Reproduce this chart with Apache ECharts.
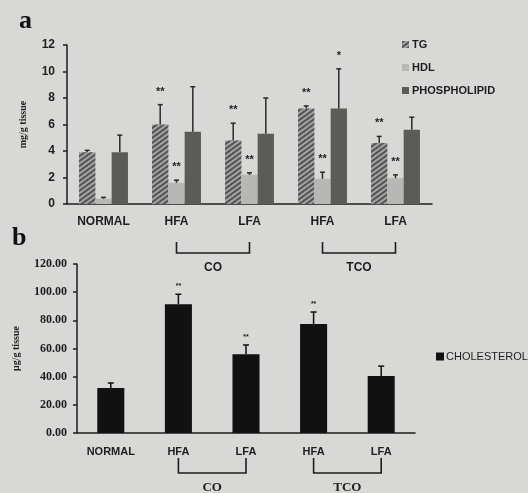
<!DOCTYPE html>
<html><head><meta charset="utf-8">
<script src="https://cdn.jsdelivr.net/npm/echarts@6/dist/echarts.min.js"></script>
<style>html,body{margin:0;padding:0;background:#d8d8d6;}#c{width:528px;height:493px;}</style>
</head><body><div id="c"></div>
<script>
// ---- data ----
const categories = ['NORMAL', 'HFA', 'LFA', 'HFA', 'LFA'];
const tg      = [3.9, 6.0, 4.8, 7.2, 4.6];
const tgErr   = [0.15, 1.5, 1.3, 0.2, 0.5];
const tgSig   = ['', '**', '**', '**', '**'];
const hdl     = [0.4, 1.6, 2.2, 1.9, 1.95];
const hdlErr  = [0.1, 0.2, 0.15, 0.5, 0.25];
const hdlSig  = ['', '**', '**', '**', '**'];
const phos    = [3.9, 5.45, 5.3, 7.2, 5.6];
const phosErr = [1.3, 3.4, 2.7, 3.0, 0.95];
const phosSig = ['', '', '', '*', ''];
const chol    = [32, 91.5, 56, 77.4, 40.5];
const cholErr = [3.5, 7, 6.5, 8.5, 7];
const cholSig = ['', '**', '**', '**', ''];
const groupLabels = ['CO', 'TCO'];
const groupSpans = [[1, 2], [3, 4]];

const SANS = '"Liberation Sans", Arial, sans-serif';
const SERIF = '"Liberation Serif", serif';
const INK = '#1e1e1e';

function errSeries(name, xi, yi, vals, errs, sigs, off, barFrac, nBars, o) {
  return {
    type: 'custom', name: name, xAxisIndex: xi, yAxisIndex: yi, silent: true, z: 5,
    data: vals.map((v, i) => [i, v + errs[i], v]),
    encode: { x: 0, y: [1, 2] },
    renderItem(params, api) {
      const i = api.value(0);
      const catW = api.size([1, 0])[0];
      const barW = catW * barFrac / nBars;
      const x0 = api.coord([i, 0])[0] + off * barW;
      const yTop = api.coord([i, api.value(1)])[1];
      const yBase = api.coord([i, api.value(2)])[1];
      const st = { stroke: o.color, lineWidth: o.lw };
      const ch = [
        { type: 'line', shape: { x1: x0, y1: yBase, x2: x0, y2: yTop }, style: st },
        { type: 'line', shape: { x1: x0 - o.cap, y1: yTop, x2: x0 + o.cap, y2: yTop }, style: st }
      ];
      const s = sigs[params.dataIndex];
      if (s) ch.push({ type: 'text', x: x0, y: yTop - o.starGap,
        style: { text: s, fill: INK, font: o.starFont, align: 'center', verticalAlign: 'middle' } });
      return { type: 'group', children: ch };
    }
  };
}

const chart = echarts.init(document.getElementById('c'), null, { renderer: 'canvas' });
const errA = { color: '#2a2a2a', lw: 1.5, cap: 2.5, starGap: 13, starFont: 'bold 11px ' + SANS };
const errB = { color: '#111', lw: 1.5, cap: 3, starGap: 8, starFont: 'bold 7px ' + SANS };
const frac = 0.67;

const option = {
  backgroundColor: '#d8d8d6',
  animation: false,
  title: [
    { text: 'a', left: 14, top: 3, textStyle: { fontFamily: SERIF, fontWeight: 'bold', fontSize: 26, color: '#111' } },
    { text: 'b', left: 7, top: 220, textStyle: { fontFamily: SERIF, fontWeight: 'bold', fontSize: 26, color: '#111' } }
  ],
  grid: [
    { left: 67, top: 45, width: 365, height: 159 },
    { left: 77, top: 264, width: 338, height: 169 }
  ],
  legend: [
    { data: ['TG', 'HDL', 'PHOSPHOLIPID'], orient: 'vertical', left: 397, top: 34, itemWidth: 7, itemHeight: 7,
      itemGap: 12, icon: 'rect',
      textStyle: { fontFamily: SANS, fontWeight: 'bold', fontSize: 11, color: INK, padding: [0, 0, 0, -2] } },
    { data: ['CHOLESTEROL'], left: 431, top: 346, itemWidth: 8, itemHeight: 8, icon: 'rect',
      textStyle: { fontFamily: SANS, fontSize: 11, color: INK, padding: [0, 0, 0, -3] } }
  ],
  xAxis: [
    { type: 'category', gridIndex: 0, data: categories,
      axisLine: { lineStyle: { color: INK, width: 1.5 } },
      axisTick: { length: 4, lineStyle: { color: INK, width: 1.5 } },
      axisLabel: { fontFamily: SANS, fontWeight: 'bold', fontSize: 12, color: INK, margin: 12 } },
    { type: 'category', gridIndex: 1, data: categories,
      axisLine: { lineStyle: { color: INK, width: 1.5 } },
      axisTick: { length: 4, lineStyle: { color: INK, width: 1.5 } },
      axisLabel: { fontFamily: SANS, fontWeight: 'bold', fontSize: 11, color: INK, margin: 13 } }
  ],
  yAxis: [
    { type: 'value', gridIndex: 0, min: 0, max: 12, interval: 2,
      name: 'mg/g tissue', nameLocation: 'middle', nameGap: 39, nameRotate: 90,
      nameTextStyle: { fontFamily: SERIF, fontWeight: 'bold', fontSize: 10, color: INK },
      splitLine: { show: false },
      axisLine: { show: true, lineStyle: { color: INK, width: 1.5 } },
      axisTick: { show: true, length: 4, lineStyle: { color: INK, width: 1.5 } },
      axisLabel: { fontFamily: SANS, fontWeight: 'bold', fontSize: 12, color: INK, margin: 12 } },
    { type: 'value', gridIndex: 1, min: 0, max: 120, interval: 20,
      name: 'μg/g tissue', nameLocation: 'middle', nameGap: 56, nameRotate: 90,
      nameTextStyle: { fontFamily: SERIF, fontWeight: 'bold', fontSize: 10, color: INK },
      splitLine: { show: false },
      axisLine: { show: true, lineStyle: { color: INK, width: 1.5 } },
      axisTick: { show: true, length: 4, lineStyle: { color: INK, width: 1.5 } },
      axisLabel: { fontFamily: SERIF, fontWeight: 'bold', fontSize: 12, color: INK, margin: 10,
        formatter: v => v.toFixed(2) } }
  ],
  series: [
    { name: 'TG', type: 'bar', xAxisIndex: 0, yAxisIndex: 0, data: tg, barGap: '0%', barCategoryGap: '33%',
      itemStyle: { color: '#a4a4a2',
        decal: { symbol: 'rect', symbolSize: 1, dashArrayX: [1, 0], dashArrayY: [1.2, 1.4],
          rotation: -Math.PI / 5, color: 'rgba(40,40,40,0.65)' } } },
    { name: 'HDL', type: 'bar', xAxisIndex: 0, yAxisIndex: 0, data: hdl, itemStyle: { color: '#b7b7b5' } },
    { name: 'PHOSPHOLIPID', type: 'bar', xAxisIndex: 0, yAxisIndex: 0, data: phos, itemStyle: { color: '#5b5b59' } },
    errSeries('TG-err', 0, 0, tg, tgErr, tgSig, -1, frac, 3, errA),
    errSeries('HDL-err', 0, 0, hdl, hdlErr, hdlSig, 0, frac, 3, errA),
    errSeries('PHOS-err', 0, 0, phos, phosErr, phosSig, 1, frac, 3, errA),
    { name: 'CHOLESTEROL', type: 'bar', xAxisIndex: 1, yAxisIndex: 1, data: chol, barWidth: '40%',
      itemStyle: { color: '#111' } },
    errSeries('CHOL-err', 1, 1, chol, cholErr, cholSig, 0, 0.4, 1, errB)
  ]
};
chart.setOption(option);

// group brackets under the axes
function brackets(xi, yi, top, bottom, textY, font) {
  const out = [];
  groupSpans.forEach((sp, g) => {
    const xa = chart.convertToPixel({ xAxisIndex: xi }, sp[0]);
    const xb = chart.convertToPixel({ xAxisIndex: xi }, sp[1]);
    const y0 = chart.convertToPixel({ yAxisIndex: yi }, 0);
    out.push({ type: 'polyline', silent: true,
      shape: { points: [[xa, y0 + top], [xa, y0 + bottom], [xb, y0 + bottom], [xb, y0 + top]] },
      style: { stroke: INK, lineWidth: 1.6, fill: null } });
    out.push({ type: 'text', silent: true, x: (xa + xb) / 2, y: y0 + textY,
      style: { text: groupLabels[g], font: font, fill: INK, align: 'center', verticalAlign: 'middle' } });
  });
  return out;
}
chart.setOption({ graphic: [].concat(
  brackets(0, 0, 38, 49, 64, 'bold 12px ' + SANS),
  brackets(1, 1, 25, 40, 55, 'bold 13px ' + SERIF)
) });
</script></body></html>
